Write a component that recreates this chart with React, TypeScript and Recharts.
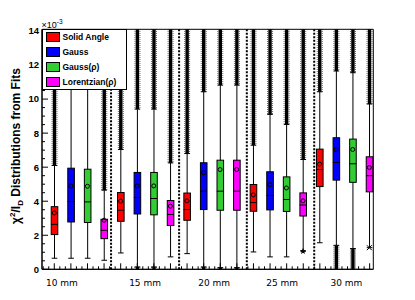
import React from 'react';
import { ComposedChart, Bar, Scatter, XAxis, YAxis, ReferenceLine, ReferenceArea, Legend } from 'recharts';

// ---- categories ----
const groups = ['10 mm', '15 mm', '20 mm', '25 mm', '30 mm'];
const methods = ['Solid Angle', 'Gauss', 'Gauss(ρ)', 'Lorentzian(ρ)'];

// ---- statistics, rows = method, columns = group (units of 1e-3) ----
const boxQ1 = [
  [2.04, 2.82, 2.88, 3.41, 4.86],
  [2.78, 3.25, 3.51, 3.49, 5.24],
  [2.75, 3.2, 3.47, 3.4, 5.11],
  [1.8, 2.57, 3.47, 3.13, 4.55],
];
const boxQ3 = [
  [3.68, 4.51, 4.48, 4.98, 7.06],
  [5.94, 5.69, 6.26, 5.73, 7.73],
  [5.88, 5.69, 6.41, 5.43, 7.65],
  [2.94, 4.04, 6.41, 4.49, 6.61],
];
const medians = [
  [2.64, 3.47, 3.51, 3.92, 5.86],
  [3.98, 4.22, 4.59, 4.34, 6.28],
  [3.96, 4.16, 4.59, 4.1, 6.2],
  [2.29, 3.22, 4.59, 3.78, 5.5],
];
const means = [
  [3.31, 4.0, 4.02, 4.37, 6.18],
  [4.9, 4.9, 5.67, 4.98, 7.04],
  [4.88, 4.9, 5.86, 4.78, 7.04],
  [2.88, 3.71, 5.86, 4.02, 5.98],
];
const whiskerLow = [
  [0.65, 0.96, 0.92, 1.02, 1.56],
  [0.65, 0.14, 0.14, 0.73, 1.41],
  [0.65, 0.14, 0.1, 0.73, 1.22],
  [0.53, 0.73, 0.1, 1.06, 1.27],
];
const whiskerHigh = [
  [6.1, 7.04, 6.8, 7.29, 10.43],
  [15, 9.41, 10.43, 9.1, 11.65],
  [15, 9.41, 10.82, 8.51, 11.55],
  [4.65, 6.25, 10.82, 6.45, 9.71],
];
// extreme outliers (null = no outliers on that side)
const outlierMax: (number | null)[][] = [
  [16, 16, 16, 16, 16],
  [null, 16, 16, 16, 16],
  [null, 16, 16, 16, 16],
  [16, 16, 16, 16, 16],
];
const outlierMin: (number | null)[][] = [
  [null, null, null, null, null],
  [null, 0, 0, null, 0],
  [null, 0, 0, null, 0],
  [null, null, 0, null, null],
];
// single low points drawn with a special marker
const lowPoints: (number | null)[][] = [
  [null, null, null, null, null],
  [null, null, null, null, null],
  [null, null, null, null, null],
  [null, null, null, 1.06, 1.27],
];

// ---- axis ticks / labels (x positions in box-slot units, first box at 0.74) ----
const yTicks = [0, 0.5, 1, 1.5, 2, 2.5, 3, 3.5, 4, 4.5, 5, 5.5, 6, 6.5, 7, 7.5, 8, 8.5, 9, 9.5, 10, 10.5, 11, 11.5, 12, 12.5, 13, 13.5, 14];
const yLabels = [0, 2, 4, 6, 8, 10, 12, 14];
const groupLabelPos = [1.2, 6.21, 10.37, 14.47, 18.34];
const separatorPos = [4.16, 8.26, 12.34, 16.4];

const YMAX = 14.1;
const XMAX = 19.96;
const FIRST_BOX = 0.74;

const methodColors = ['#ff0000', '#0000ff', '#33cc33', '#ff00ff'];

const minorX: number[] = [];
for (let k = -2; k <= 57; k++) minorX.push(FIRST_BOX + k / 3);
const xTicks = [...minorX, ...groupLabelPos];

const rows = groups.flatMap((g, gi) =>
  methods.map((m, mi) => ({
    key: `${g}|${m}`,
    pos: FIRST_BOX + gi * methods.length + mi,
    gi,
    mi,
    whisker: [whiskerLow[mi][gi], whiskerHigh[mi][gi]],
    box: [boxQ1[mi][gi], boxQ3[mi][gi]],
    upOut: outlierMax[mi][gi] == null ? null : [whiskerHigh[mi][gi], outlierMax[mi][gi]],
    lowOut: outlierMin[mi][gi] == null ? null : [outlierMin[mi][gi], whiskerLow[mi][gi]],
    median: medians[mi][gi],
    mean: means[mi][gi],
    lowPoint: lowPoints[mi][gi],
  }))
);

const SANS = 'Liberation Sans, Arial, Helvetica, sans-serif';

const WhiskerShape = (p: any) => {
  const { x, y, width, height, payload } = p;
  if (!payload || !payload.whisker || !isFinite(y)) return <g />;
  const cx = x + width / 2;
  const y2 = y + height;
  return (
    <g>
      <line x1={cx} x2={cx} y1={y} y2={y2} stroke="#000" strokeWidth={1} />
      <line x1={cx - 2.8} x2={cx + 2.8} y1={y} y2={y} stroke="#000" strokeWidth={1} />
      <line x1={cx - 2.8} x2={cx + 2.8} y1={y2} y2={y2} stroke="#000" strokeWidth={1} />
    </g>
  );
};

const OutlierShape = (p: any) => {
  const { x, y, width, height, payload, dataKey } = p;
  const key = typeof dataKey === 'string' ? dataKey : 'upOut';
  if (!payload || !payload[key] || !isFinite(y) || !height) return <g />;
  const cx = x + width / 2;
  const h = Math.abs(height);
  const top = Math.min(y, y + height);
  return (
    <g>
      <rect x={cx - 1.7} y={top} width={3.4} height={h} fill="#000" />
      <line x1={cx - 2.5} x2={cx - 2.5} y1={top} y2={top + h} stroke="#000" strokeWidth={1} strokeDasharray="1 1" opacity={0.6} />
      <line x1={cx + 2.5} x2={cx + 2.5} y1={top} y2={top + h} stroke="#000" strokeWidth={1} strokeDasharray="1 1" opacity={0.6} />
    </g>
  );
};

const BoxShape = (p: any) => {
  const { x, y, width, height, payload } = p;
  if (!payload || !isFinite(y)) return <g />;
  const cx = x + width / 2;
  return (
    <rect x={cx - 3.3} y={y} width={6.6} height={height} fill={methodColors[payload.mi]} stroke="#000" strokeWidth={1} />
  );
};

const MedianShape = (p: any) => {
  const { cx, cy } = p;
  if (!isFinite(cx) || !isFinite(cy)) return <g />;
  return <line x1={cx - 3.3} x2={cx + 3.3} y1={cy} y2={cy} stroke="#000" strokeWidth={1} />;
};

const MeanShape = (p: any) => {
  const { cx, cy } = p;
  if (!isFinite(cx) || !isFinite(cy)) return <g />;
  return <circle cx={cx} cy={cy} r={2} fill="none" stroke="#000" strokeWidth={1} />;
};

const LowPointShape = (p: any) => {
  const { cx, cy, payload } = p;
  if (!payload || payload.lowPoint == null || !isFinite(cy)) return <g />;
  if (payload.gi === 3) {
    const pts: string[] = [];
    for (let i = 0; i < 10; i++) {
      const r = i % 2 === 0 ? 3.4 : 1.4;
      const a = -Math.PI / 2 + (i * Math.PI) / 5;
      pts.push(`${cx + r * Math.cos(a)},${cy + r * Math.sin(a)}`);
    }
    return <polygon points={pts.join(' ')} fill="#000" />;
  }
  return (
    <g stroke="#000" strokeWidth={1}>
      <line x1={cx - 2.5} x2={cx + 2.5} y1={cy - 2.5} y2={cy + 2.5} />
      <line x1={cx - 2.5} x2={cx + 2.5} y1={cy + 2.5} y2={cy - 2.5} />
    </g>
  );
};

const YTick = (p: any) => {
  const { x, y, payload } = p;
  const v = payload.value;
  const major = yLabels.includes(v);
  return (
    <g>
      <line x1={x} x2={x + (major ? 6 : 3)} y1={y} y2={y} stroke="#000" strokeWidth={1} />
      {major && (
        <text x={x - 3} y={y} dy={3.4} textAnchor="end" fontFamily={SANS} fontWeight="bold" fontSize={9.5} fill="#000">
          {v}
        </text>
      )}
    </g>
  );
};

const XTick = (p: any) => {
  const { x, y, payload } = p;
  const v = payload.value;
  const li = groupLabelPos.indexOf(v);
  if (li >= 0) {
    return (
      <text x={x} y={y + 17} textAnchor="middle" fontFamily="DejaVu Sans, sans-serif" fontSize={9} fill="#000">
        {groups[li]}
      </text>
    );
  }
  const major = Math.abs((v - FIRST_BOX) - Math.round(v - FIRST_BOX)) < 1e-6;
  return <line x1={x} x2={x} y1={y} y2={y - (major ? 6 : 3)} stroke="#000" strokeWidth={1} />;
};

const AxisTexts = () => (
  <g>
    <text transform="rotate(-90)" x={-146} y={19.5} textAnchor="middle" fontFamily={SANS} fontWeight="bold" fontSize={12} fill="#000">
      χ<tspan dy={-5} fontSize={8}>2</tspan>
      <tspan dy={5}>/I</tspan>
      <tspan dy={3} fontSize={8}>D</tspan>
      <tspan dy={-3}> Distributions from Fits</tspan>
    </text>
    <text x={41.5} y={27.5} fontFamily={SANS} fontSize={9} fill="#000">
      ×10<tspan dy={-4} fontSize={6.5}>-3</tspan>
    </text>
  </g>
);

const LegendBox = () => (
  <div
    style={{
      width: 85,
      height: 61,
      border: '1px solid #000',
      background: '#fff',
      boxSizing: 'border-box',
      paddingLeft: 3,
      fontFamily: SANS,
      fontWeight: 'bold',
      fontSize: 8.5,
      color: '#000',
      lineHeight: '15px',
    }}
  >
    {methods.map((m, i) => (
      <div key={m} style={{ display: 'flex', alignItems: 'center', height: 15 }}>
        <span
          style={{
            display: 'inline-block',
            width: 14,
            height: 10,
            background: methodColors[i],
            border: '1px solid #000',
            boxSizing: 'border-box',
            marginRight: 3,
          }}
        />
        <span>{m}</span>
      </div>
    ))}
  </div>
);

export default function App() {
  return (
    <div style={{ position: 'absolute', left: 0, top: 0, width: 415, height: 300, background: '#fff' }}>
      <ComposedChart
        width={415}
        height={300}
        data={rows}
        margin={{ top: 29.3, right: 41.7, bottom: 0, left: 12 }}
        barSize={9}
        barGap={-9}
      >
        <XAxis
          xAxisId="num"
          dataKey="pos"
          type="number"
          domain={[0, XMAX]}
          allowDataOverflow
          ticks={xTicks}
          interval={0}
          tick={XTick}
          tickLine={false}
          tickSize={0}
          tickMargin={0}
          axisLine={{ stroke: '#000' }}
          height={30.7}
        />
        <XAxis xAxisId="cat" dataKey="key" type="category" hide height={0} padding={{ left: 4, right: -4.3 }} />
        <YAxis
          type="number"
          domain={[0, YMAX]}
          allowDataOverflow
          ticks={yTicks}
          interval={0}
          tick={YTick}
          tickLine={false}
          tickSize={0}
          tickMargin={0}
          axisLine={{ stroke: '#000' }}
          width={30}
          label={<AxisTexts />}
        />
        {separatorPos.map((s) => (
          <ReferenceLine key={s} xAxisId="num" x={s} stroke="#000" strokeWidth={2} strokeDasharray="2 1.5" />
        ))}
        <Bar xAxisId="cat" dataKey="whisker" shape={WhiskerShape} isAnimationActive={false} />
        <Bar xAxisId="cat" dataKey="upOut" shape={(p: any) => <OutlierShape {...p} dataKey="upOut" />} isAnimationActive={false} />
        <Bar xAxisId="cat" dataKey="lowOut" shape={(p: any) => <OutlierShape {...p} dataKey="lowOut" />} isAnimationActive={false} />
        <Bar xAxisId="cat" dataKey="box" shape={BoxShape} isAnimationActive={false} />
        <Scatter xAxisId="cat" dataKey="median" shape={MedianShape} isAnimationActive={false} />
        <Scatter xAxisId="cat" dataKey="mean" shape={MeanShape} isAnimationActive={false} />
        <Scatter xAxisId="cat" dataKey="lowPoint" shape={LowPointShape} isAnimationActive={false} />
        <ReferenceArea xAxisId="num" x1={0} x2={XMAX} y1={0} y2={YMAX} fill="none" stroke="#000" strokeWidth={1} ifOverflow="visible" />
        <Legend
          layout="vertical"
          align="center"
          verticalAlign="middle"
          width={85}
          height={61}
          wrapperStyle={{ left: 41.5, top: 28.8, width: 85, height: 61 }}
          content={() => <LegendBox />}
        />
      </ComposedChart>
    </div>
  );
}
